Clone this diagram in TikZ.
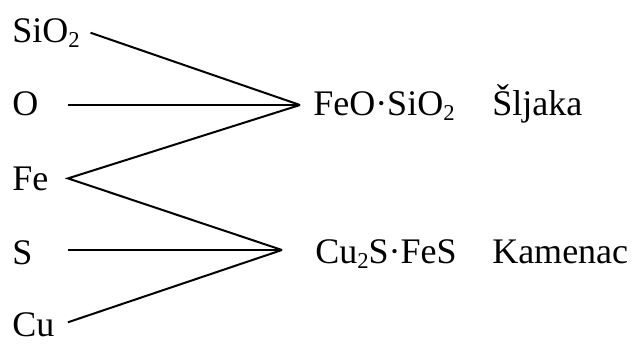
\documentclass[tikz,border=0pt]{standalone}
\usepackage{fontspec}
\setmainfont{Liberation Serif}
\usetikzlibrary{positioning}
\newcommand{\chemsub}[1]{\raisebox{-4pt}{\fontsize{17}{19}\selectfont #1}}

\begin{document}
\begin{tikzpicture}[
  x=0.75pt, y=-0.75pt,
  species/.style={anchor=base west, inner sep=0pt, font=\fontsize{27}{30}\selectfont},
  link/.style={black, line width=1.5pt, line join=miter}
]
  \useasboundingbox (0,0) rectangle (632,343);

  \node[species] (sio2) at (12,42) {SiO\chemsub{2}};
  \node[species] (o) at (12,115) {O};
  \node[species] (fe) at (12,190) {Fe};
  \node[species] (s) at (12,264) {S};
  \node[species] (cu) at (12,336) {Cu};

  \coordinate (jslag) at (300,105);
  \coordinate (jmatte) at (282,250);

  \node[species] (slagf) at (313,115) {FeO·SiO\chemsub{2}};
  \node[species] (slag) at (492,115) {Šljaka};
  \node[species] (mattef) at (315,263) {Cu\chemsub{2}S·FeS};
  \node[species] (matte) at (492,263) {Kamenac};

  \draw[link] ([xshift=8pt]sio2.east) -- (jslag);
  \draw[link] ([xshift=42pt]o.west |- jslag) -- (jslag);
  \draw[link] (jslag) -- ([xshift=42pt]fe.west) -- (jmatte);
  \draw[link] ([xshift=42pt]s.west |- jmatte) -- (jmatte);
  \draw[link] ([shift={(42pt,1.5pt)}]cu.west) -- (jmatte);
\end{tikzpicture}
\end{document}
